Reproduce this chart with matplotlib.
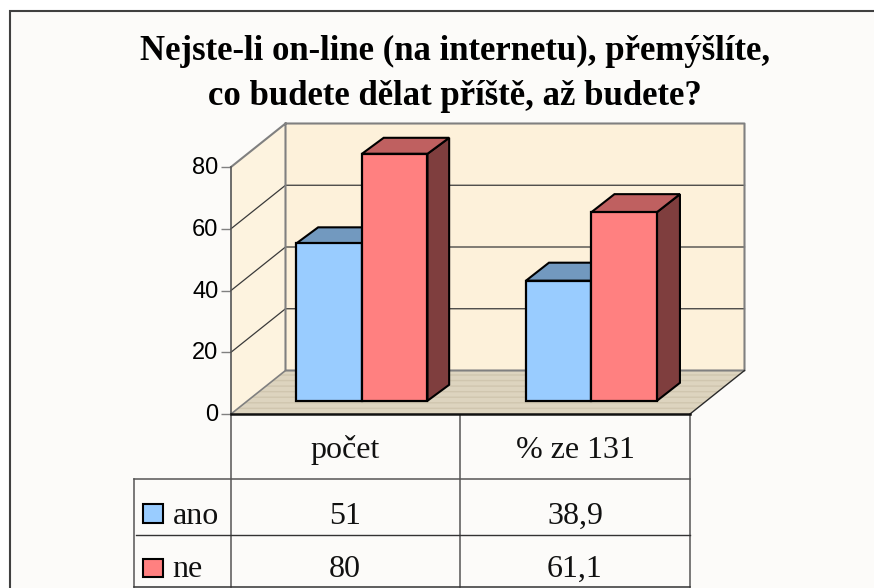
import matplotlib
matplotlib.use("Agg")
import matplotlib.pyplot as plt
from matplotlib.patches import Polygon, Rectangle
from matplotlib.transforms import ScaledTranslation

categories = ["počet", "% ze 131"]
series_names = ["ano", "ne"]
ano_values = [51, 38.9]
ne_values = [80, 61.1]
y_ticks = [0, 20, 40, 60, 80]
title_lines = ["Nejste-li on-line (na internetu), přemýšlíte,", "co budete dělat příště, až budete?"]

W, H = 874, 588
SERIF = ["Liberation Serif", "DejaVu Serif"]
fig = plt.figure(figsize=(W / 100, H / 100), dpi=100, facecolor="white")

# pixel overlay for frame, title and table
ov = fig.add_axes([0, 0, 1, 1], zorder=0)
ov.set_xlim(0, W); ov.set_ylim(H, 0); ov.axis("off")
ov.add_patch(Rectangle((10, 11), W, H, fc="#FCFBF9", ec="#404040", lw=1.5))
for s, yb in zip(title_lines, [60, 105]):
    ov.text(455, yb, s, family=SERIF, weight="bold", fontsize=25, ha="center", va="baseline", color="black")

# plot in data coordinates: front plane of the 3D box
X0, X1, Y0, Y80 = 231, 690, 414, 167
ax = fig.add_axes([X0 / W, 1 - Y0 / H, (X1 - X0) / W, (Y0 - Y80) / H], zorder=1)
ax.set_xlim(0, 2); ax.set_ylim(0, 80)
ax.patch.set_visible(False)
for sp in ax.spines.values():
    sp.set_visible(False)
ax.set_xticks([])
ax.set_yticks(y_ticks)
ax.tick_params(axis="y", length=7, width=1, color="#808080", pad=2, labelsize=17)
for t in ax.get_yticklabels():
    t.set_family("Liberation Sans")
    t.set_transform(t.get_transform() + ScaledTranslation(0, 1.5 / 100, fig.dpi_scale_trans))

px_x = 2 / (X1 - X0)
px_y = 80 / (Y0 - Y80)
ddx, ddy = 54.5 * px_x, 43.5 * px_y
WALL, FLOOR, GREY = "#FDF1DA", "#DDD4BF", "#808080"


def poly(pts, fc, ec="none", lw=0, z=2):
    ax.add_patch(Polygon(pts, closed=True, fc=fc, ec=ec, lw=lw, zorder=z, clip_on=False, joinstyle="miter"))


top = y_ticks[-1]
poly([(ddx, ddy), (2 + ddx, ddy), (2 + ddx, top + ddy), (ddx, top + ddy)], WALL)
poly([(0, 0), (ddx, ddy), (ddx, top + ddy), (0, top)], "#FDF3DF")
ax.add_patch(Polygon([(0, 0), (2, 0), (2 + ddx, ddy), (ddx, ddy)], closed=True, fc=FLOOR, ec="#D0C6AF",
                     hatch="---", lw=0, zorder=2.1, clip_on=False))
for v in y_ticks[1:-1]:
    ax.plot([0, ddx, 2 + ddx], [v, v + ddy, v + ddy], color="#3A3A3A", lw=0.9, zorder=2.2, clip_on=False)
ax.plot([0, ddx, 2 + ddx, 2 + ddx, ddx, ddx], [top, top + ddy, top + ddy, ddy, ddy, top + ddy],
        color=GREY, lw=1.5, zorder=2.3, clip_on=False)
ax.plot([0, ddx], [0, ddy], color=GREY, lw=1.2, zorder=2.3, clip_on=False)
ax.plot([0, 0], [0, top], color="#555555", lw=1.2, zorder=2.3, clip_on=False)
ax.plot([2, 2 + ddx], [0, ddy], color="#2A2A2A", lw=1, zorder=2.3, clip_on=False)
ax.plot([0, 2], [0, 0], color="#111111", lw=1.8, zorder=2.4, clip_on=False)

bar_w = 65.5 * px_x
shift_x, base = 16.2 * px_x, 13.2 * px_y
depths = [(21.7 * px_x, 16 * px_y), (23 * px_x, 18 * px_y)]
styles = [("#99CCFF", "#7299BF", "#5C7A99"), ("#FF8080", "#BF6060", "#7F3E3E")]
for s, vals in enumerate([ano_values, ne_values]):
    front, topc, side = styles[s]
    for i, v in enumerate(vals):
        x = i + 0.5 + shift_x + (s - 1) * bar_w
        dx, dy = depths[i]
        z = 3 + s
        y = base + v
        poly([(x + bar_w, base), (x + bar_w + dx, base + dy), (x + bar_w + dx, y + dy), (x + bar_w, y)],
             side, "black", 1.5, z)
        poly([(x, y), (x + dx, y + dy), (x + bar_w + dx, y + dy), (x + bar_w, y)], topc, "black", 1.5, z)
        ax.bar(x, v, bar_w, bottom=base, align="edge", color=front, edgecolor="black", lw=1.6, zorder=z + 0.1,
               clip_on=False)

# data table below the plot
LINE = "#555555"
for x in [231, 460, 690]:
    ov.plot([x, x], [414, 586.5], color=LINE, lw=1.1)
ov.plot([134, 134], [479, 586.5], color=LINE, lw=1.1)
ov.plot([134, 690], [479, 479], color=LINE, lw=1.1)
ov.plot([136, 690], [534.7, 534.7], color="#333333", lw=1)
ov.plot([134, 690], [586.5, 586.5], color="#333333", lw=1.1)


def fmt(v):
    return f"{v:g}".replace(".", ",")


TS = 23
centers = [345, 575]
for c, cat in zip(centers, categories):
    ov.text(c, 458, cat, family=SERIF, fontsize=TS, ha="center", va="baseline", color="#111111")
rows = [(ano_values, 524, 504, "#99CCFF"), (ne_values, 577, 558.5, "#FF8080")]
for name, (vals, yb, ky, col) in zip(series_names, rows):
    ov.add_patch(Rectangle((143, ky), 19.5, 18.5, fc=col, ec="black", lw=1.5))
    ov.text(172.5, yb, name, family=SERIF, fontsize=TS, ha="left", va="baseline", color="#111111")
    for c, v in zip(centers, vals):
        ov.text(c, yb, fmt(v), family=SERIF, fontsize=TS, ha="center", va="baseline", color="#111111")

fig.savefig("out.png", dpi=100)
